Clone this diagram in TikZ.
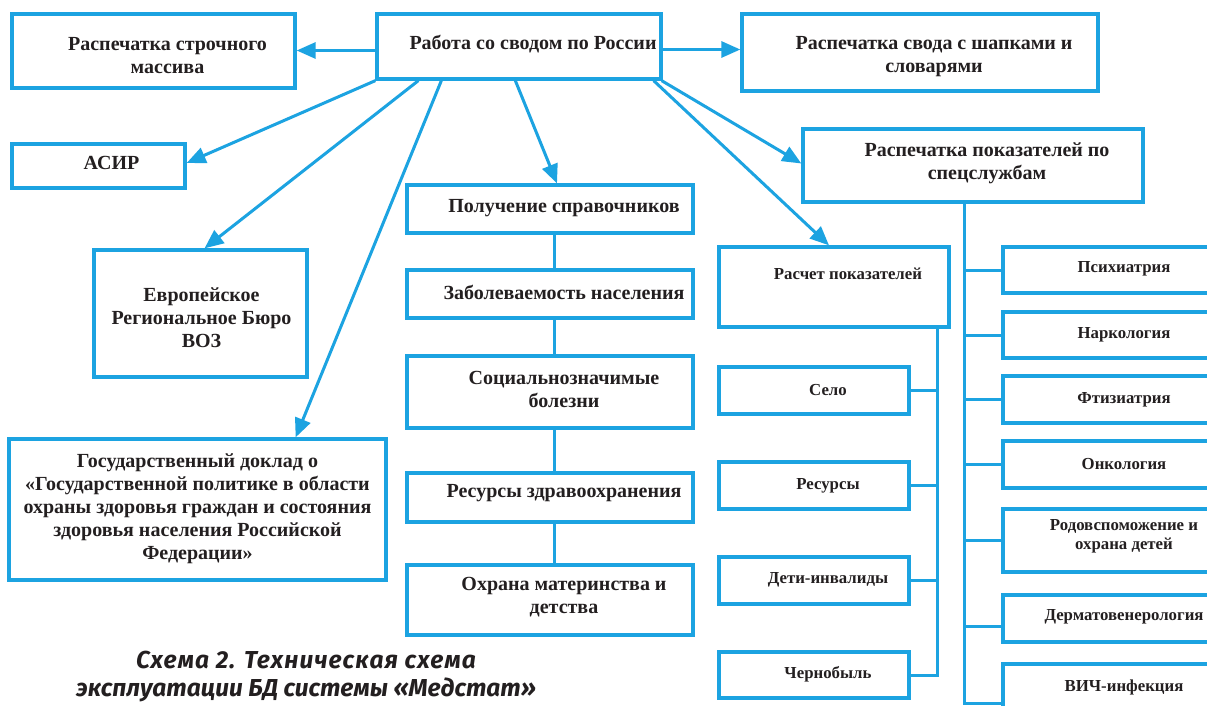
\documentclass[tikz,border=0pt]{standalone}
\usepackage{fontspec}
\setmainfont{Liberation Serif}
\newfontfamily\capfont{Fira Sans}
\usetikzlibrary{arrows.meta,fit,calc}
\definecolor{ln}{RGB}{28,163,225}
\definecolor{tx}{RGB}{35,31,32}
\newcommand\bx[8]{\node[box, fit={(#2,#3) (#4,#5)}, label={[#6, shift={(#7)}]center:{#8}}] (#1) {};}
\begin{document}
\begin{tikzpicture}[x=1pt,y=-1pt,
  box/.style={draw=ln, line width=3.3pt, inner sep=0pt},
  tb/.style={font=\bfseries\fontsize{20}{23}\selectfont, text=tx, align=center, inner sep=0pt},
  ts/.style={font=\bfseries\fontsize{16.8}{19}\selectfont, text=tx, align=center, inner sep=0pt},
  arr/.style={draw=ln, line width=3pt, -{Triangle[length=19pt,width=16pt]}},
  con/.style={draw=ln, line width=3pt},
  captxt/.style={font=\capfont\bfseries\itshape\fontsize{24.5}{28}\selectfont, text=tx, align=center}]
\useasboundingbox (0,0) rectangle (1207,706);
\clip (0,0) rectangle (1207,706);
\fill[white] (0,0) rectangle (1207,706);

\bx{str}{12}{14}{295}{88}{tb}{14,5}{Распечатка строчного\\массива}
\bx{work}{377}{14}{661}{79}{tb}{14,-2}{Работа со сводом по России}
\bx{svod}{742}{14}{1098}{91}{tb}{14,4}{Распечатка свода с шапками и\\словарями}
\bx{asir}{12}{144}{185}{188}{tb}{13,-3}{АСИР}
\bx{pok}{803}{129}{1143}{202}{tb}{14,-2}{Распечатка показателей по\\спецслужбам}
\bx{spr}{407}{185}{693}{233}{tb}{14,-1}{Получение справочников}
\bx{evr}{94}{250}{307}{377}{tb}{1,4}{Европейское\\Региональное Бюро\\ВОЗ}
\bx{gos}{9}{439}{386}{580}{tb}{0,-1}{Государственный доклад о\\«Государственной политике в области\\охраны здоровья граждан и состояния\\здоровья населения Российской\\Федерации»}
\bx{zab}{407}{270}{693}{318}{tb}{14,-2}{Заболеваемость населения}
\bx{soc}{407}{356}{693}{428}{tb}{14,-3}{Социальнозначимые\\болезни}
\bx{res}{407}{473}{693}{522}{tb}{14,-4}{Ресурсы здравоохранения}
\bx{ohr}{407}{565}{693}{635}{tb}{14,-3}{Охрана материнства и\\детства}

\bx{rasch}{719}{247}{949}{327}{ts}{14,-13}{Расчет показателей}
\bx{selo}{719}{367}{909}{414}{ts}{14,0}{Село}
\bx{resu}{719}{462}{909}{509}{ts}{14,0}{Ресурсы}
\bx{deti}{719}{557}{909}{604}{ts}{14,-1}{Дети-инвалиды}
\bx{chern}{719}{652}{909}{698}{ts}{14,-1}{Чернобыль}

\bx{psy}{1003}{247}{1217}{293}{ts}{14,-1}{Психиатрия}
\bx{nark}{1003}{312}{1217}{358}{ts}{14,0}{Наркология}
\bx{ftiz}{1003}{376}{1217}{423}{ts}{14,0}{Фтизиатрия}
\bx{onko}{1003}{441}{1217}{488}{ts}{14,0}{Онкология}
\bx{rodo}{1003}{509}{1217}{572}{ts}{14,-4}{Родовспоможение и\\охрана детей}
\bx{derm}{1003}{595}{1217}{642}{ts}{14,-2}{Дерматовенерология}
\bx{vich}{1003}{664}{1217}{716}{ts}{14,-3}{ВИЧ-инфекция}

% arrows from the central box
\coordinate (wl) at ([yshift=-4pt]work.west);
\coordinate (wr) at ([yshift=-3pt]work.east);
\draw[arr] (wl) -- (wl -| str.east);
\draw[arr] (wr) -- (wr -| svod.west);
\draw[arr] (work.south west) -- ([yshift=3pt]asir.east);
\draw[arr] ([xshift=43pt]work.south west) -- ([xshift=4pt]evr.north);
\draw[arr] ([xshift=66pt]work.south west) -- ([xshift=-92pt]gos.north east);
\draw[arr] ([xshift=140pt]work.south west) -- ([xshift=7pt]spr.north);
\draw[arr] ([xshift=-9pt]work.south east) -- ([xshift=-5pt]rasch.north);
\draw[arr] ([xshift=-1pt]work.south east) -- ([yshift=2pt]pok.west);

% middle chain
\draw[con] ([xshift=4pt]spr.south) -- ([xshift=4pt]zab.north);
\draw[con] ([xshift=4pt]zab.south) -- ([xshift=4pt]soc.north);
\draw[con] ([xshift=4pt]soc.south) -- ([xshift=4pt]res.north);
\draw[con] ([xshift=4pt]res.south) -- ([xshift=4pt]ohr.north);

% Расчет показателей tree
\coordinate (rt) at ([xshift=-13pt]rasch.south east);
\draw[con] (rt) -- (rt |- chern.east) -- (chern.east);
\draw[con] (selo.east) -- (selo.east -| rt);
\draw[con] (resu.east) -- (resu.east -| rt);
\draw[con] (deti.east) -- (deti.east -| rt);

% спецслужбы tree
\coordinate (pt) at ([xshift=163pt]pok.south west);
\coordinate (vb) at ([yshift=-13pt]vich.west);
\draw[con] (pt) -- (pt |- vb) -- (vb);
\draw[con] (psy.west) -- (psy.west -| pt);
\draw[con] (nark.west) -- (nark.west -| pt);
\draw[con] (ftiz.west) -- (ftiz.west -| pt);
\draw[con] (onko.west) -- (onko.west -| pt);
\draw[con] (rodo.west) -- (rodo.west -| pt);
\coordinate (dw) at ([yshift=-8pt]derm.west);
\draw[con] (dw) -- (dw -| pt);

\node[captxt] (caption) at (306,677) {{\addfontfeature{LetterSpace=4.5}Схема 2. Техническая схема}\\эксплуатации БД системы «Медстат»};
\end{tikzpicture}
\end{document}
